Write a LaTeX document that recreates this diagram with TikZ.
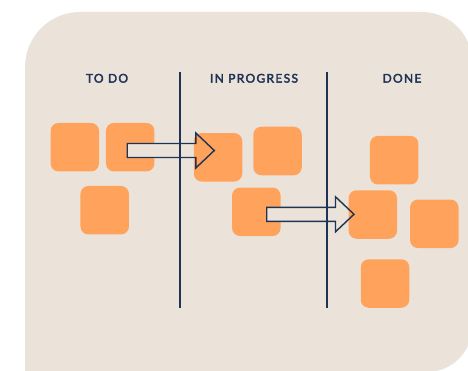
\documentclass[tikz,border=0pt]{standalone}
\usepackage{fontspec}
\newfontfamily\lanefont[LetterSpace=11, FakeBold=3]{Lato}
\usetikzlibrary{calc}

\definecolor{board}{HTML}{EBE3D9}
\definecolor{note}{HTML}{FFA35C}
\definecolor{ink}{HTML}{1F3354}

% hollow arrow from (#1) to the tip at (#2), kept level with (#1)
\newcommand{\movepath}[2]{let \p1 = (#1), \p2 = (#2) in
  (\x1, \y1+7pt) -- (\x2-18.5pt, \y1+7pt) -- (\x2-18.5pt, \y1+17.5pt)
  -- (\x2, \y1) -- (\x2-18.5pt, \y1-17.5pt) -- (\x2-18.5pt, \y1-7pt)
  -- (\x1, \y1-7pt) -- cycle}

\begin{document}
\begin{tikzpicture}[
        x = 1pt, y = 1pt, % work in points
        line join = miter
    ]

    \tikzstyle{card}=[
        fill = note,
        rounded corners = 8pt,
        minimum size = 48.5pt,
        inner sep = 0pt
    ]
    \tikzstyle{title}=[text = ink, font = \lanefont\fontsize{12}{14}\selectfont]
    \tikzstyle{lane}=[draw = ink, line width = 1.4pt]
    \tikzstyle{move}=[draw = ink, line width = 1.4pt]

    \useasboundingbox (0,0) rectangle (468,370);

    % board
    \fill[board] (25,-2) -- (25,303) arc[start angle=180, end angle=90, radius=55]
        -- (422,358) arc[start angle=90, end angle=0, radius=50]
        -- (472,43) arc[start angle=0, end angle=-90, radius=45] -- cycle;

    % to do
    \node[card] (t1) at (74.8,222.8) {};
    \node[card] (t2) at (130.2,222.8) {};
    \node[card] (t3) at (104.7,159.8) {};
    \coordinate (a1) at ([shift={(-3,-3.3)}]t2.center);
    \coordinate (b1) at (214.3,219.5);
    \fill[board] \movepath{a1}{b1};

    % in progress
    \node[card] (p1) at (218,212.7) {};
    \node[card] (p2) at (277.5,219) {};
    \node[card] (p3) at (256.3,158.2) {};
    \coordinate (a2) at ([shift={(10.4,-2.5)}]p3.center);
    \coordinate (b2) at (354,155.5);
    \fill[board] \movepath{a2}{b2};

    % done
    \node[card] (d1) at (394.2,209.8) {};
    \node[card] (d2) at (372.8,155.5) {};
    \node[card] (d3) at (434.3,146.2) {};
    \node[card] (d4) at (385,86.5) {};

    % arrow outlines go over the cards
    \draw[move] \movepath{a1}{b1};
    \draw[move] \movepath{a2}{b2};

    % lanes
    \draw[lane] (180,298) -- (180,62.5);
    \draw[lane] (327,298) -- (327,62.5);

    \node[title] (todo) at (107,291.7) {TO DO};
    \node[title] (doing) at (254,291.7) {IN PROGRESS};
    \node[title] (done) at (402,291.7) {DONE};

\end{tikzpicture}
\end{document}
